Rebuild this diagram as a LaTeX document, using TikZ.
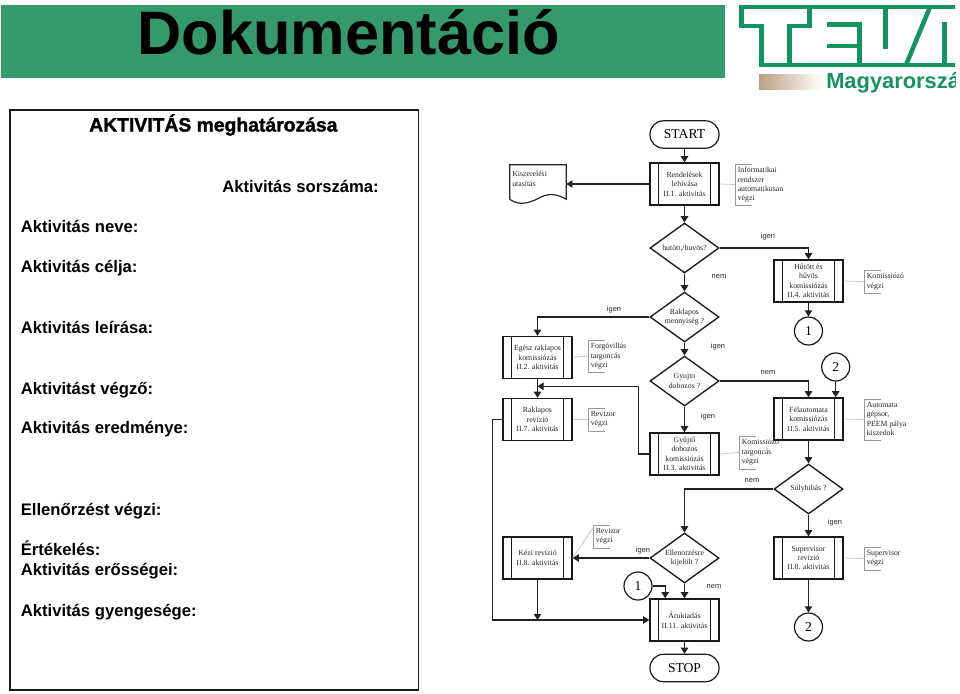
\documentclass[tikz,border=0pt]{standalone}
\usepackage{fontspec}
\setmainfont{Liberation Serif}
\setsansfont{Liberation Sans}
\usetikzlibrary{shapes.geometric,arrows.meta,calc}
\newfontface\titlefakebold{Liberation Sans Bold}[FakeBold=1.6]
\definecolor{banner}{HTML}{35996B}
\definecolor{logogreen}{HTML}{15935F}
\definecolor{lnk}{HTML}{222222}
\definecolor{notegray}{HTML}{C8C8C8}
\tikzset{
  x=0.75pt,y=-0.75pt,
  flowtext/.style={font=\fontsize{5.85}{7.05}\selectfont,text=black!85,align=center,inner sep=0pt},
  proc/.style={flowtext,draw=black!90,line width=1.1pt,rectangle,minimum width=51.75pt,minimum height=31.5pt,
    path picture={\draw[line width=1.0pt,black!90]
      ([xshift=6.4pt]path picture bounding box.north west)--([xshift=6.4pt]path picture bounding box.south west)
      ([xshift=-6.4pt]path picture bounding box.north east)--([xshift=-6.4pt]path picture bounding box.south east);}},
  dec/.style={flowtext,draw=black!90,line width=1.0pt,diamond,minimum width=51.75pt,minimum height=37.5pt,aspect=1.38},
  term/.style={draw=black!90,line width=0.9pt,rectangle,rounded corners=10pt,minimum width=51.75pt,minimum height=20.5pt,
    inner sep=0pt,font=\fontsize{10.2}{12}\selectfont},
  conn/.style={circle,draw=black!90,line width=0.9pt,minimum size=21pt,inner sep=0pt,font=\fontsize{10.2}{12}\selectfont},
  arr/.style={draw=lnk,line width=0.85pt,-{Triangle[length=4.6pt,width=5.6pt]}},
  notelink/.style={draw=notegray,line width=0.6pt},
  notebracket/.style={draw=black!40,line width=0.5pt},
  notetext/.style={flowtext,align=left,anchor=north west,inner sep=0pt},
  answer/.style={font=\sffamily\fontsize{5.6}{7}\selectfont,text=black!85,inner sep=0pt,anchor=base},
  field/.style={font=\sffamily\bfseries\fontsize{12.5}{15}\selectfont,anchor=base west,inner sep=0pt,text=black},
  logoline/.style={draw=logogreen,line width=3.4pt,line cap=butt,line join=miter},
}
\newcommand{\notelabel}[5]{% name, x, top, bottom, text
  \draw[notebracket] ({#2+17},#3) -- (#2,#3) -- (#2,#4) -- ({#2+17},#4);
  \coordinate (#1w) at (#2,{(#3+#4)/2});
  \node[notetext] (#1) at ({#2+2.5},{#3+3}) {#5};
}
\begin{document}
\begin{tikzpicture}
\useasboundingbox (0,0) rectangle (960,693);
% banner
\fill[banner] (1,5) rectangle (725,78);
\node[font=\sffamily\bfseries\fontsize{46}{50}\selectfont,inner sep=0pt,anchor=base west] (title) at (137,54) {Dokumentáció};
% logo
\begin{scope}
\clip (730,0) rectangle (955,100);
\draw[logoline] (741,7) -- (955,7);
\draw[logoline] (741.5,5) -- (741.5,26) -- (761.5,26) -- (761.5,65) -- (955,65);
\draw[logoline] (789.5,65) -- (789.5,26) -- (809.5,26) -- (809.5,7);
\draw[logoline] (827,24.5) -- (859.5,24.5) -- (859.5,65);
\draw[logoline] (827,46) -- (859.5,46);
\draw[logoline] (885.5,7) -- (885.5,49);
\draw[logoline] (906,65) -- (930,7);
\draw[logoline] (944.5,22) -- (944.5,65);
\shade[left color=black!25!brown!60!white,right color=white] (759,74) rectangle (823,89);
\node[font=\sffamily\bfseries\fontsize{16.4}{18}\selectfont,text=logogreen,anchor=base west,inner sep=0pt] (mag) at (826,88.5) {Magyarország};
\end{scope}
% left panel
\draw[draw=black!90,line width=1.0pt] (10,110) rectangle (418.5,690);
\node[font=\titlefakebold\fontsize{14.5}{16}\selectfont,inner sep=0pt,anchor=base west] (lt) at (89,131.5) {AKTIVITÁS meghatározása};
\node[field] (f0) at (222,192.3) {Aktivitás sorszáma:};
\node[field] (f1) at (20.5,232.7) {Aktivitás neve:};
\node[field] (f2) at (20.5,272.7) {Aktivitás célja:};
\node[field] (f3) at (20.5,333.5) {Aktivitás leírása:};
\node[field] (f4) at (20.5,394) {Aktivitást végző:};
\node[field] (f5) at (20.5,433.5) {Aktivitás eredménye:};
\node[field] (f6) at (20.5,515) {Ellenőrzést végzi:};
\node[field] (f7) at (20.5,555.7) {Értékelés:};
\node[field] (f8) at (20.5,575.7) {Aktivitás erősségei:};
\node[field] (f9) at (20.5,616) {Aktivitás gyengesége:};
% flow nodes
\node[term] (start) at (684.5,134.5) {START};
\node[proc] (rend) at (684.5,184) {Rendelések\\lehívása\\II.1. aktivitás};
\node[flowtext,minimum width=42pt,minimum height=25.5pt] (kisz) at (538,182) {};
\node[notetext] (kisztext) at (512,171) {Kiszerelési\\utasítás};
\draw[draw=black!85,line width=0.9pt] (kisz.south west) -- (kisz.north west) -- (kisz.north east) -- (kisz.south east)
  .. controls (557,194) and (550,193) .. (541,197) .. controls (532,202) and (520,207) .. (kisz.south west);
\node[dec] (hut) at (684.5,248) {hutött,/huvös?};
\node[dec] (rak) at (684.5,317) {Raklapos\\mennyiség ?};
\node[dec] (gyuj) at (684.5,381) {Gyujto\\dobozos ?};
\node[proc] (gyb) at (684.5,454) {Gyűjtő\\dobozos\\komissiózás\\II.3. aktivitás};
\node[proc] (hubox) at (808.5,281) {Hűtött és\\hűvös\\komissiózás\\II.4. aktivitás};
\node[conn] (c1a) at (808.5,331) {1};
\node[conn] (c2a) at (835.7,367) {2};
\node[proc] (egesz) at (537.5,357.5) {Egész raklapos\\komissiózás\\II.2. aktivitás};
\node[proc] (rev) at (537.5,419.5) {Raklapos\\revízió\\II.7. aktivitás};
\node[proc] (fel) at (808.5,419) {Félautomata\\komissiózás\\II.5. aktivitás};
\node[dec] (suly) at (808.5,489) {Súlyhibás ?};
\node[proc] (sup) at (808.5,558) {Supervisor\\revízió\\II.8. aktivitás};
\node[conn] (c2b) at (808.5,627) {2};
\node[dec] (ell) at (684.5,558) {Ellenorzésre\\kijelölt ?};
\node[proc] (kezi) at (537.5,558) {Kézi revízió\\II.8. aktivitás};
\node[conn] (c1b) at (638,586) {1};
\node[proc] (aru) at (684.5,620) {Árukiadás\\II.11. aktivitás};
\node[term] (stop) at (684.5,668) {STOP};
% notes
\notelabel{ninf}{735}{164}{205}{Informatikai\\rendszer\\automatikusan\\végzi}
\notelabel{nkom}{864}{270}{293}{Komissiózó\\végzi}
\notelabel{nfor}{588}{340}{372}{Forgóvillás\\targoncás\\végzi}
\notelabel{nrev}{588}{408}{431}{Revizor\\végzi}
\notelabel{naut}{864}{399}{440}{Automata\\gépsor,\\PEEM pálya\\kiszedok}
\notelabel{ntar}{739}{436}{469}{Komissiózó\\targoncás\\végzi}
\notelabel{nsup}{864}{547}{570}{Supervisor\\végzi}
\notelabel{nrv2}{593}{525}{548}{Revizor\\végzi}
% note links
\draw[notelink] (rend.east) -- (ninfw);
\draw[notelink] (hubox.east) -- (nkomw);
\draw[notelink] (egesz.east) -- (nforw);
\draw[notelink] (rev.east) -- (nrevw);
\draw[notelink] (fel.east) -- (nautw);
\draw[notelink] (gyb.east) -- (ntarw);
\draw[notelink] (sup.east) -- (nsupw);
\draw[notelink] (kezi.east) -- (593,528);
% connectors
\draw[arr] (start) -- (rend);
\draw[arr] (rend.west) -- (rend.west -| kisz.east);
\draw[arr] (rend) -- (hut);
\draw[arr] (hut) -- (rak);
\draw[arr] (rak) -- (gyuj);
\draw[arr] (gyuj) -- (gyb);
\draw[arr] (hut.east) -| (hubox.north);
\draw[arr] (hubox) -- (c1a);
\draw[arr] (rak.west) -| (egesz.north);
\draw[arr] (egesz) -- (rev);
\coordinate (merge) at ($(egesz.south)!0.38!(rev.north)$);
\draw[arr] (gyb.west) -- ++(-11,0) |- (merge);
\draw[arr] (gyuj.east) -| (fel.north);
\draw[arr] (c2a) -- (c2a |- fel.north);
\draw[arr] (fel) -- (suly);
\draw[arr] (suly) -- (sup);
\draw[arr] (sup) -- (c2b);
\draw[arr] (suly.west) -| (ell.north);
\draw[arr] (ell.west) -- (kezi.east);
\draw[arr] (ell) -- (aru);
\draw[arr] (c1b.east) -| ([xshift=-14.5]aru.north);
\draw[arr] (aru) -- (stop);
\draw[arr] (kezi.south) -- (kezi.south |- aru.west);
\draw[arr] (rev.west) -- ++(-10,0) |- (aru.west);
% answers
\node[answer] (a1) at (768,238) {igen};
\node[answer] (a2) at (719,278) {nem};
\node[answer] (a3) at (614,311) {igen};
\node[answer] (a4) at (718,348) {igen};
\node[answer] (a5) at (768,374) {nem};
\node[answer] (a6) at (708,418) {igen};
\node[answer] (a7) at (752,482) {nem};
\node[answer] (a8) at (835,524) {igen};
\node[answer] (a9) at (643,552) {igen};
\node[answer] (a10) at (714,588) {nem};
\end{tikzpicture}
\end{document}
